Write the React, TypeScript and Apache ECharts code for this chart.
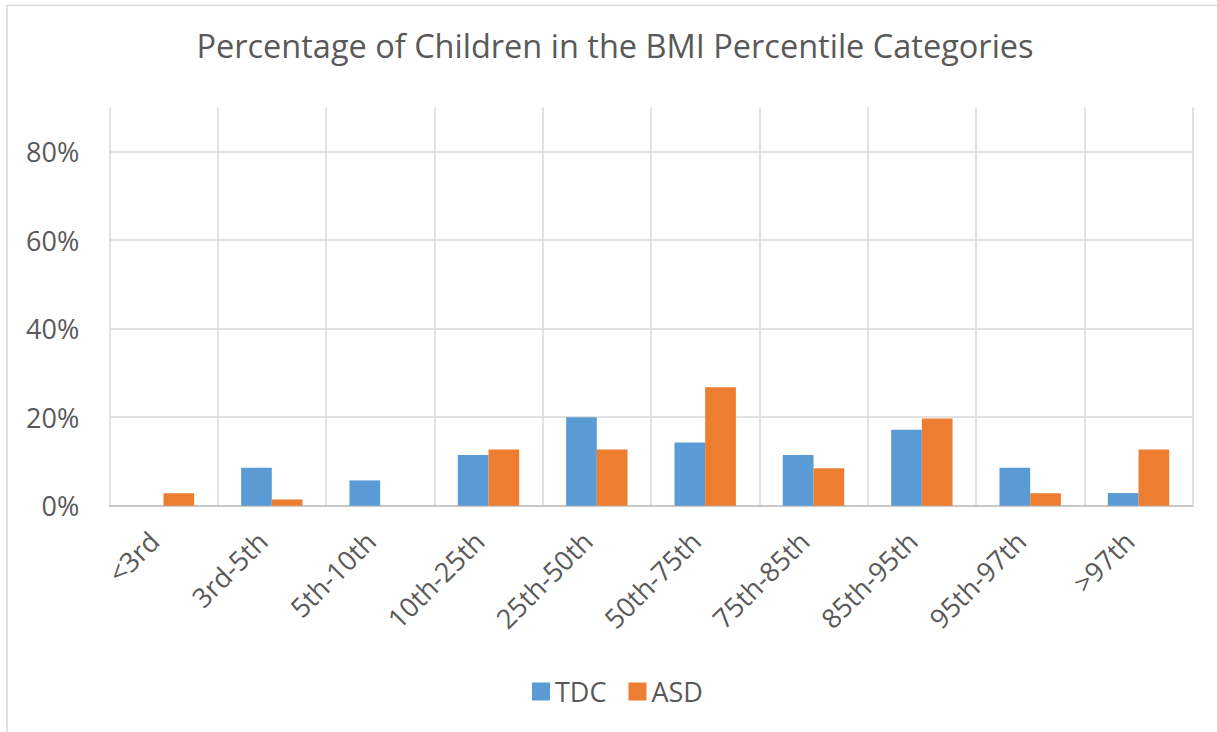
import React, { useEffect, useRef } from "react";
import * as echarts from "echarts";

const categories = ["<3rd", "3rd-5th", "5th-10th", "10th-25th", "25th-50th", "50th-75th", "75th-85th", "85th-95th", "95th-97th", ">97th"];
const tdcValues = [0, 8.57, 5.71, 11.43, 20.0, 14.29, 11.43, 17.14, 8.57, 2.86];
const asdValues = [2.82, 1.41, 0, 12.68, 12.68, 26.76, 8.45, 19.72, 2.82, 12.68];
const seriesNames = ["TDC", "ASD"];

const FONT = "Open Sans";
const TEXT = "#595959";

export default function App() {
  const ref = useRef<HTMLDivElement>(null);
  useEffect(() => {
    if (!ref.current) return;
    const chart = echarts.init(ref.current, undefined, { renderer: "svg" });
    chart.setOption({
      animation: false,
      backgroundColor: "#ffffff",
      title: {
        text: "Percentage of Children in the BMI Percentile Categories",
        left: 610,
        textAlign: "center",
        top: 24,
        textStyle: { fontFamily: FONT, fontSize: 32.5, fontWeight: "normal", color: TEXT },
      },
      legend: {
        data: seriesNames,
        left: 527,
        top: 673,
        itemWidth: 18,
        itemHeight: 18,
        itemGap: 22,
        icon: "rect",
        textStyle: { fontFamily: FONT, fontSize: 27, color: TEXT },
      },
      grid: { left: 109.3, right: 24.3, top: 107.3, bottom: 226.3, containLabel: false },
      xAxis: {
        type: "category",
        data: categories,
        axisLine: { show: true, lineStyle: { color: "#bfbfbf", width: 1.5 } },
        axisTick: { show: false },
        splitLine: { show: true, interval: 0, lineStyle: { color: "#d9d9d9", width: 1.5 } },
        axisLabel: {
          interval: 0,
          rotate: 45,
          margin: 40,
          verticalAlign: "bottom",
          fontFamily: FONT,
          fontSize: 27,
          color: TEXT,
        },
      },
      yAxis: {
        type: "value",
        min: 0,
        max: 90,
        interval: 20,
        axisLine: { show: false },
        axisTick: { show: false },
        splitLine: { show: true, showMaxLine: false, lineStyle: { color: "#d9d9d9", width: 1.5 } },
        axisLabel: {
          margin: 30,
          showMaxLabel: false,
          formatter: (v: number) => (v === 90 ? "" : v + "%"),
          fontFamily: FONT,
          fontSize: 27,
          color: TEXT,
        },
      },
      graphic: [
        {
          type: "polyline",
          shape: { points: [[7, 740], [7, 5.5], [1220, 5.5]] },
          style: { stroke: "#d9d9d9", lineWidth: 1.5, fill: null },
          silent: true,
        },
      ],
      series: [
        {
          name: seriesNames[0],
          type: "bar",
          data: tdcValues,
          barWidth: 30.7,
          barGap: "0%",
          itemStyle: { color: "#5B9BD5" },
        },
        {
          name: seriesNames[1],
          type: "bar",
          data: asdValues,
          barWidth: 30.7,
          barGap: "0%",
          itemStyle: { color: "#ED7D31" },
        },
      ],
    });
    return () => chart.dispose();
  }, []);
  return (
    <div
      ref={ref}
      style={{ position: "fixed", left: 0, top: 0, width: 1217, height: 732 }}
    />
  );
}
